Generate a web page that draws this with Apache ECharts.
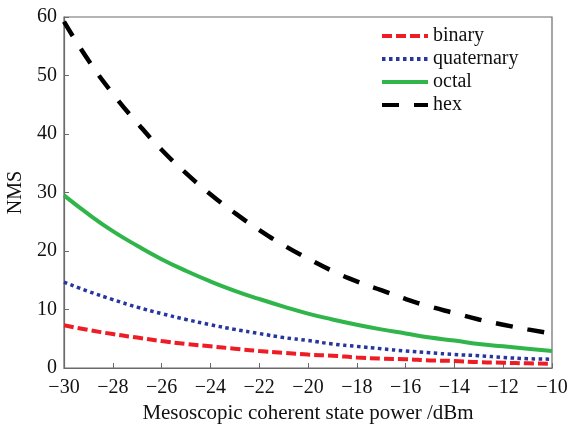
<!DOCTYPE html>
<html>
<head>
<meta charset="utf-8">
<script src="https://cdn.jsdelivr.net/npm/echarts@6/dist/echarts.min.js"></script>
<style>
  html, body { margin: 0; padding: 0; background: #fff; }
  #chart { width: 568px; height: 427px; }
</style>
</head>
<body>
<div id="chart"></div>
<script>
// values, one per dBm
const powerDbm = [-30, -29, -28, -27, -26, -25, -24, -23, -22, -21, -20, -19, -18, -17, -16, -15, -14, -13, -12, -11, -10]
const hexNms = [59.2, 52.6, 46.9, 41.9, 37.3, 33.3, 29.7, 26.5, 23.6, 21.0, 18.7, 16.6, 14.8, 13.3, 11.8, 10.5, 9.4, 8.3, 7.4, 6.6, 5.9]
const octalNms = [29.5, 26.3, 23.4, 20.9, 18.6, 16.6, 14.8, 13.2, 11.8, 10.5, 9.3, 8.3, 7.4, 6.6, 5.9, 5.2, 4.7, 4.1, 3.7, 3.3, 2.9]
const quaternaryNms = [14.7, 13.1, 11.7, 10.4, 9.3, 8.3, 7.4, 6.6, 5.9, 5.2, 4.7, 4.1, 3.7, 3.3, 2.9, 2.6, 2.3, 2.1, 1.8, 1.6, 1.5]
const binaryNms = [7.3, 6.5, 5.8, 5.2, 4.6, 4.1, 3.7, 3.3, 2.9, 2.6, 2.3, 2.1, 1.8, 1.6, 1.5, 1.3, 1.2, 1.0, 0.9, 0.8, 0.7]
const yTicks = [0, 10, 20, 30, 40, 50, 60]

const serif = '"Liberation Serif", "DejaVu Serif", serif'
const chart = echarts.init(document.getElementById('chart'))

function pairs(values) {
  return powerDbm.map((x, i) => [x, values[i]])
}

function minusSign(v) {
  return String(v).replace('-', '\u2212')
}

chart.setOption({
  backgroundColor: '#fff',
  animation: false,
  grid: {
    left: 64,
    right: 16,
    top: 17,
    bottom: 59,
    outerBoundsMode: 'none',
    show: true,
    borderColor: '#6b6b6b',
    borderWidth: 1.2
  },
  legend: {
    orient: 'vertical',
    left: 375,
    top: 21,
    itemWidth: 46,
    itemHeight: 14,
    itemGap: 3,
    itemStyle: { opacity: 0 },
    lineStyle: { width: 4 },
    textStyle: { fontFamily: serif, fontSize: 20, color: '#111' },
    data: ['binary', 'quaternary', 'octal', 'hex']
  },
  xAxis: {
    type: 'value',
    min: -30,
    max: -10,
    interval: 2,
    name: 'Mesoscopic coherent state power /dBm',
    nameLocation: 'middle',
    nameGap: 31,
    nameTextStyle: { fontFamily: serif, fontSize: 21, color: '#111' },
    axisLine: { lineStyle: { color: '#6b6b6b', width: 1.2 } },
    axisTick: { inside: true, length: 5, lineStyle: { color: '#6b6b6b' } },
    axisLabel: { fontFamily: serif, fontSize: 20, color: '#111', margin: 10, formatter: minusSign },
    splitLine: { show: false }
  },
  yAxis: {
    type: 'value',
    min: yTicks[0],
    max: yTicks[yTicks.length - 1],
    interval: 10,
    name: 'NMS',
    nameLocation: 'middle',
    nameGap: 35,
    nameTextStyle: { fontFamily: serif, fontSize: 20, color: '#111' },
    axisLine: { lineStyle: { color: '#6b6b6b', width: 1.2 } },
    axisTick: { inside: true, length: 5, lineStyle: { color: '#6b6b6b' } },
    axisLabel: { fontFamily: serif, fontSize: 20, color: '#111', margin: 7 },
    splitLine: { show: false }
  },
  series: [
    {
      name: 'binary',
      type: 'line',
      smooth: true,
      showSymbol: false,
      symbol: 'none',
      z: 4,
      lineStyle: { color: '#ee1c25', width: 4, type: [10, 4] },
      itemStyle: { color: '#ee1c25' },
      data: pairs(binaryNms)
    },
    {
      name: 'quaternary',
      type: 'line',
      smooth: true,
      showSymbol: false,
      symbol: 'none',
      z: 3,
      lineStyle: { color: '#26369e', width: 3.5, type: [3.5, 3.5] },
      itemStyle: { color: '#26369e' },
      data: pairs(quaternaryNms)
    },
    {
      name: 'octal',
      type: 'line',
      smooth: true,
      showSymbol: false,
      symbol: 'none',
      z: 2,
      lineStyle: { color: '#2fb54a', width: 4 },
      itemStyle: { color: '#2fb54a' },
      data: pairs(octalNms)
    },
    {
      name: 'hex',
      type: 'line',
      smooth: true,
      showSymbol: false,
      symbol: 'none',
      z: 1,
      lineStyle: { color: '#000', width: 4.5, type: [17, 15] },
      itemStyle: { color: '#000' },
      data: pairs(hexNms)
    }
  ]
})
</script>
</body>
</html>
